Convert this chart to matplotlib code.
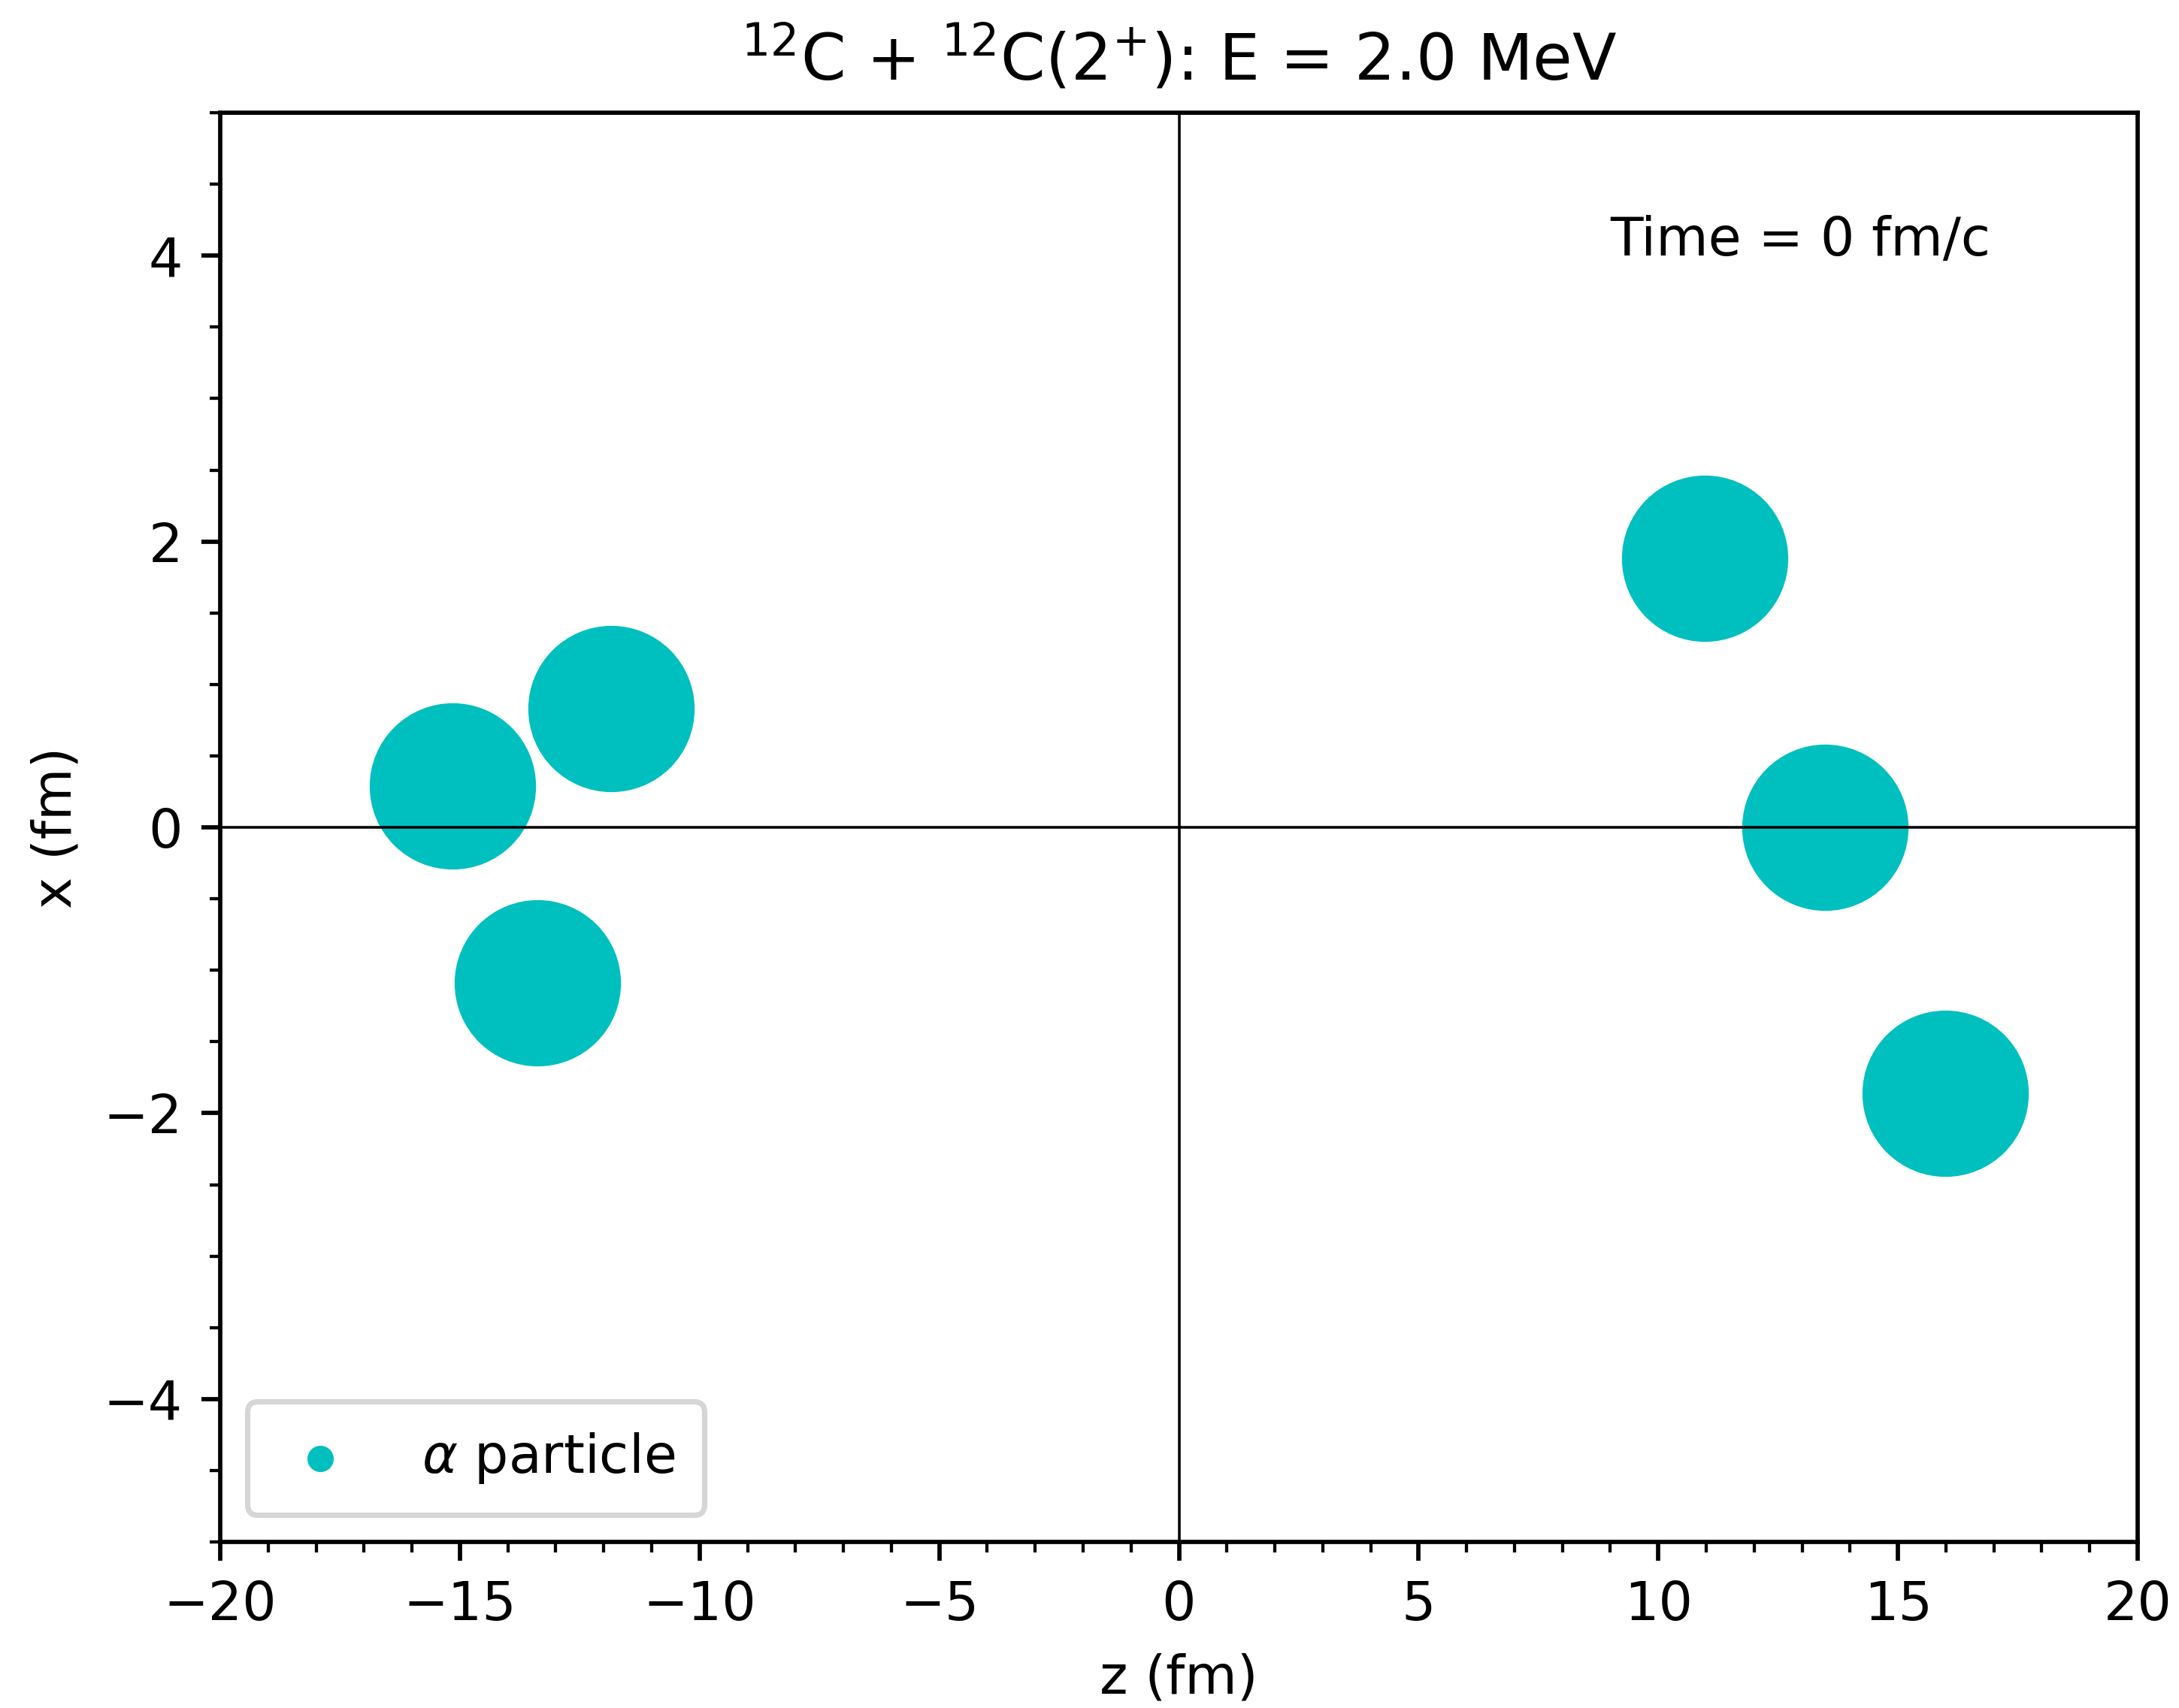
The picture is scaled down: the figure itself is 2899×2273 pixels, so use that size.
import matplotlib
matplotlib.use('Agg')
import matplotlib.pyplot as plt
from matplotlib.ticker import AutoMinorLocator

# --- Data: alpha-particle centres (fm) ---
# projectile 12C (left), target 12C(2+) (right)
proj_z = [-15.15, -11.85, -13.38]
proj_x = [0.29, 0.83, -1.09]
targ_z = [10.97, 13.47, 15.98]
targ_x = [1.88, 0.0, -1.86]

TITLE = r'$^{12}$C + $^{12}$C(2$^{+}$): E = 2.0 MeV'
TIME_LABEL = 'Time = 0 fm/c'

DPI = 514
fig = plt.figure(figsize=(2899 / DPI, 2273 / DPI), dpi=DPI)
ax = fig.add_axes([293 / 2899, 1 - 2052 / 2273, 2551 / 2899, 1902 / 2273])

ax.axhline(0, color='k', linewidth=0.5)
ax.axvline(0, color='k', linewidth=0.5)

ax.scatter(proj_z, proj_x, s=900, color='c', label=r'$\alpha$ particle')
ax.scatter(targ_z, targ_x, s=900, color='c')

ax.set_xlim(-20, 20)
ax.set_ylim(-5, 5)
ax.xaxis.set_minor_locator(AutoMinorLocator())
ax.yaxis.set_minor_locator(AutoMinorLocator())

ax.set_xlabel('z (fm)')
ax.set_ylabel('x (fm)')
ax.set_title(TITLE)
ax.text(9, 4, TIME_LABEL)

ax.legend(loc='lower left', markerscale=0.13, borderpad=0.55,
          handlelength=1.64, handletextpad=1.06)

fig.savefig('out.png', dpi=DPI)
